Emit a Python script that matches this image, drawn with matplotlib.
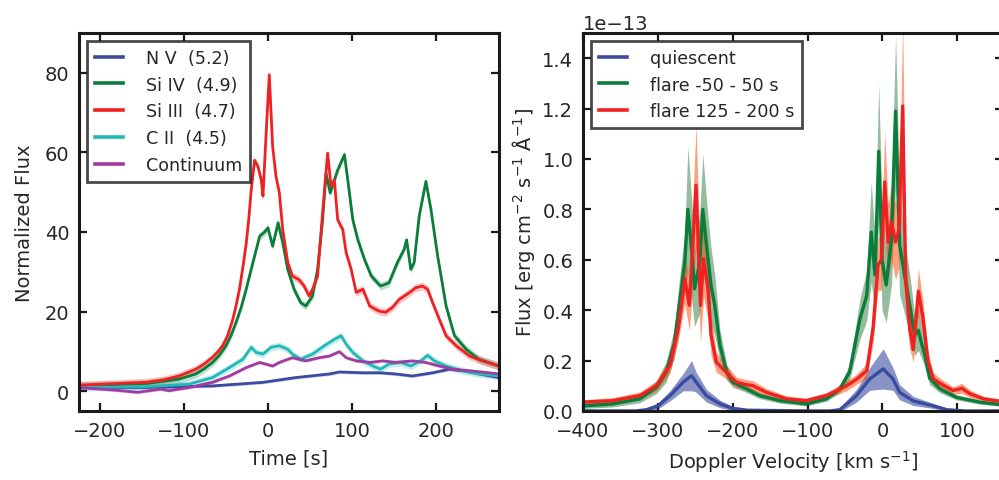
import numpy as np
import matplotlib
matplotlib.use('Agg')
import matplotlib.pyplot as plt

################### DATOS: CURVAS DE LUZ ###################

# Tiempo [s] y flujo normalizado por linea
nv_t = [-225, -145, -66, -6, 33, 73, 85, 113, 133, 152, 172, 196, 216, 232, 252, 275]
nv_f = [0.9, 0.9, 1.3, 2.2, 3.4, 4.3, 4.8, 4.6, 4.6, 4.3, 3.8, 4.6, 5.5, 5.1, 4.3, 3.4]

siiv_t = [-225, -145, -106, -86, -76, -66, -58, -50, -44, -38, -32, -26, -18, -10, -4, 0, 5.5, 12, 17.5,
          23.5, 31, 39, 45, 53, 59, 65, 69, 74, 83, 91, 95, 101, 107, 115, 123, 134, 144, 154, 162, 165,
          170, 174, 180, 188, 194, 202, 212, 222, 236, 251, 275]
siiv_f = [1.3, 1.9, 3.0, 4.3, 5.6, 7.2, 9.0, 11.4, 14.0, 17.3, 21.0, 25.6, 32.3, 38.9, 40.0, 41.0, 36.4,
          42.3, 37.3, 30.6, 25.6, 22.2, 21.4, 23.9, 30.6, 43.0, 54.8, 49.8, 55.6, 59.4, 53.0, 43.0, 38.0,
          33.0, 28.9, 26.4, 27.2, 32.3, 35.6, 38.0, 30.6, 32.3, 44.0, 52.7, 45.6, 33.9, 21.4, 13.9, 10.5,
          8.0, 6.3]

siiii_t = [-225, -145, -125, -106, -86, -76, -66, -60, -54, -48, -42, -38, -34, -30, -26, -23, -20, -16,
           -12, -8, -6, -2, 1.5, 5.5, 9.5, 13.5, 17.5, 23.5, 29, 37, 43, 49, 53, 59, 65, 71, 75, 79, 83,
           89, 93, 99, 105, 113, 121, 132, 140, 148, 156, 168, 176, 184, 190, 196, 204, 212, 224, 240,
           255, 275]
siiii_f = [1.5, 2.2, 2.8, 3.8, 5.5, 6.8, 8.5, 9.8, 11.4, 14.0, 18.0, 21.5, 25.6, 31.0, 37.0, 43.0, 50.6,
           58.0, 56.5, 53.0, 49.0, 65.7, 79.5, 61.5, 54.0, 49.8, 40.6, 32.3, 28.9, 28.0, 26.4, 23.9, 25.6,
           28.9, 44.8, 59.8, 51.5, 53.0, 43.0, 40.6, 34.8, 30.6, 24.8, 25.6, 21.4, 20.1, 19.8, 21.0, 23.0,
           24.7, 26.0, 26.4, 25.6, 22.2, 18.0, 13.9, 11.4, 8.8, 7.6, 6.3]

cii_t = [-225, -145, -94, -66, -46, -30, -20, -14, -6, 3.5, 13.5, 23.5, 29, 39, 53, 67, 79, 87, 93, 101,
         113, 125, 134, 144, 158, 170, 182, 190, 198, 212, 232, 252, 275]
cii_f = [0.9, 1.1, 1.75, 3.4, 5.9, 8.0, 11.0, 9.7, 9.3, 11.0, 11.4, 10.5, 9.3, 8.0, 9.3, 11.4, 13.0, 13.9,
         11.8, 9.7, 7.6, 6.3, 5.5, 6.8, 7.2, 6.3, 7.6, 9.0, 7.6, 6.3, 5.1, 4.3, 3.8]

cont_t = [-225, -185, -155, -128, -118, -94, -66, -46, -26, -10, 5.5, 13.5, 29, 45, 61, 73, 85, 93, 105,
          121, 137, 152, 172, 188, 204, 220, 240, 259, 275]
cont_f = [0.9, 0.3, -0.3, 0.5, 0.1, 0.9, 2.2, 3.8, 5.9, 7.2, 6.3, 7.2, 8.4, 7.6, 8.4, 8.8, 9.9, 8.4, 7.6,
          7.2, 7.6, 7.2, 7.6, 7.2, 6.3, 5.5, 5.1, 4.7, 4.3]

# Incertidumbre (media banda) de cada curva
err_lc = {'nv': 0.4, 'siiv': 1.0, 'siiii': 1.0, 'cii': 0.9, 'cont': 0.4}

labels_lc = ['N V  (5.2)', 'Si IV  (4.9)', 'Si III  (4.7)', 'C II  (4.5)', 'Continuum']

################### DATOS: ESPECTROS ###################

flux_scale = 1e-13  # unidades del eje y

q_v = [-400, -330, -315, -300, -284, -266, -255, -249, -235, -217, -200, -180, -100, -70, -57, -35, -17,
       1, 14, 23, 41, 68, 86, 110, 161]
q_f = [0.0, 0.0, 0.005, 0.02, 0.06, 0.115, 0.14, 0.115, 0.06, 0.028, 0.01, 0.003, 0.0, 0.0, 0.005, 0.06,
       0.127, 0.167, 0.127, 0.074, 0.04, 0.02, 0.005, 0.0, 0.0]
q_e = [0.003, 0.005, 0.008, 0.012, 0.02, 0.035, 0.06, 0.04, 0.025, 0.015, 0.008, 0.004, 0.003, 0.004,
       0.008, 0.025, 0.045, 0.08, 0.045, 0.03, 0.018, 0.01, 0.005, 0.003, 0.003]

f1_v = [-400, -360, -324, -302, -289, -278, -271, -264, -260, -255, -251, -244, -240, -235, -229, -224,
        -217, -208, -200, -186, -164, -137, -102, -75, -57, -44, -30, -21, -15, -10, -5, -0.5, 5, 12,
        17.5, 23, 30, 36.5, 43, 48, 52, 56, 63, 77, 99, 130, 161]
f1_f = [0.02, 0.028, 0.048, 0.094, 0.154, 0.27, 0.43, 0.59, 0.8, 0.644, 0.485, 0.59, 0.8, 0.657, 0.498,
        0.419, 0.26, 0.154, 0.114, 0.094, 0.061, 0.041, 0.028, 0.048, 0.087, 0.154, 0.366, 0.458, 0.71,
        0.54, 1.03, 0.6, 0.5, 0.68, 1.19, 0.66, 0.53, 0.42, 0.3, 0.32, 0.27, 0.23, 0.13, 0.087, 0.054,
        0.035, 0.024]
f1_e = [0.01, 0.012, 0.015, 0.025, 0.04, 0.06, 0.1, 0.12, 0.25, 0.2, 0.15, 0.2, 0.22, 0.18, 0.15, 0.12,
        0.06, 0.03, 0.02, 0.015, 0.012, 0.01, 0.008, 0.01, 0.015, 0.03, 0.08, 0.1, 0.2, 0.15, 0.27, 0.2,
        0.15, 0.18, 0.3, 0.2, 0.15, 0.12, 0.08, 0.08, 0.06, 0.05, 0.025, 0.015, 0.01, 0.008, 0.006]

f2_v = [-400, -360, -324, -302, -284, -273, -264, -258, -249, -243, -239, -233, -229, -222, -213, -202,
        -195, -186, -173, -155, -128, -102, -75, -48, -35, -21, -12.5, -6, -1.5, 3, 7.5, 12, 17.5, 22,
        24, 27, 31, 36.5, 41, 48, 54, 61, 68, 77, 94, 106, 117, 135, 161]
f2_f = [0.035, 0.041, 0.061, 0.10, 0.18, 0.326, 0.525, 0.419, 0.896, 0.419, 0.604, 0.485, 0.3, 0.194,
        0.167, 0.134, 0.114, 0.107, 0.1, 0.074, 0.048, 0.041, 0.061, 0.10, 0.125, 0.16, 0.33, 0.578, 0.6,
        0.909, 0.67, 0.75, 0.67, 0.72, 0.91, 1.21, 0.52, 0.326, 0.244, 0.475, 0.37, 0.194, 0.127, 0.11,
        0.081, 0.09, 0.068, 0.048, 0.037]
f2_e = [0.01, 0.012, 0.015, 0.02, 0.03, 0.05, 0.1, 0.1, 0.24, 0.15, 0.15, 0.12, 0.08, 0.04, 0.03, 0.025,
        0.02, 0.02, 0.02, 0.015, 0.012, 0.01, 0.012, 0.02, 0.02, 0.03, 0.06, 0.1, 0.12, 0.2, 0.15, 0.15,
        0.15, 0.15, 0.2, 0.35, 0.12, 0.08, 0.05, 0.09, 0.07, 0.04, 0.025, 0.02, 0.015, 0.02, 0.015, 0.01,
        0.008]

labels_sp = ['quiescent', 'flare -50 - 50 s', 'flare 125 - 200 s']

################### ESTILO ###################

c_blue = '#3b4ba0'
c_green = '#0b7d3a'
c_red = '#ee2222'
c_cyan = '#22b8b8'
c_purple = '#a03ca0'
c_text = '#262626'
c_spine = '#1a1a1a'

plt.rcParams['font.family'] = ['DejaVu Sans']
plt.rcParams['font.size'] = 14
plt.rcParams['text.color'] = c_text
plt.rcParams['axes.labelcolor'] = c_text
plt.rcParams['xtick.color'] = c_text
plt.rcParams['ytick.color'] = c_text
plt.rcParams['mathtext.fontset'] = 'dejavusans'


def style_axes(ax):
    for s in ax.spines.values():
        s.set_linewidth(2.2)
        s.set_color(c_spine)
    ax.tick_params(direction='in', length=6, width=1.6, top=True, right=True,
                   labelsize=14, pad=7, color=c_spine)


def legend_box(ax, **kw):
    leg = ax.legend(loc='upper left', fancybox=False, fontsize=12.6, handlelength=1.6,
                    handletextpad=1.3, borderpad=0.45, labelspacing=0.5, borderaxespad=0.45, **kw)
    leg.get_frame().set_edgecolor(c_spine)
    leg.get_frame().set_linewidth(2.0)
    for h in leg.get_lines():
        h.set_linewidth(2.6)
    return leg


fig = plt.figure(figsize=(9.99, 4.81), dpi=100)
ax1 = fig.add_axes([0.0791, 0.1435, 0.4204, 0.7858])
ax2 = fig.add_axes([0.5836, 0.1435, 0.4204, 0.7858])

################### PANEL IZQUIERDO ###################

series = [(nv_t, nv_f, err_lc['nv'], c_blue),
          (siiv_t, siiv_f, err_lc['siiv'], c_green),
          (siiii_t, siiii_f, err_lc['siiii'], c_red),
          (cii_t, cii_f, err_lc['cii'], c_cyan),
          (cont_t, cont_f, err_lc['cont'], c_purple)]

for (t, f, e, c), lab in zip(series, labels_lc):
    t = np.array(t)
    f = np.array(f)
    ax1.fill_between(t, f - e, f + e, color=c, alpha=0.25, lw=0)
    ax1.plot(t, f, color=c, lw=2.0, label=lab)

ax1.set_xlim(-225, 275)
ax1.set_ylim(-5, 90)
ax1.set_xticks([-200, -100, 0, 100, 200])
ax1.set_yticks([0, 20, 40, 60, 80])
ax1.set_xlabel('Time [s]', fontsize=14, labelpad=6)
ax1.set_ylabel('Normalized Flux', fontsize=14, labelpad=8)
style_axes(ax1)
legend_box(ax1)

################### PANEL DERECHO ###################

spec = [(q_v, q_f, q_e, c_blue, c_blue, 0.6),
        (f1_v, f1_f, f1_e, c_green, '#2f7a3f', 0.5),
        (f2_v, f2_f, f2_e, c_red, 'orangered', 0.5)]

for v, f, e, c, cb, a in spec:
    v = np.array(v)
    f = np.array(f) * flux_scale
    e = np.array(e) * flux_scale
    ax2.fill_between(v, f - e, f + e, color=cb, alpha=a, lw=0)

for (v, f, e, c, cb, a), lab in zip(spec, labels_sp):
    ax2.plot(v, np.array(f) * flux_scale, color=c, lw=2.4, label=lab)

ax2.set_xlim(-400, 161)
ax2.set_ylim(0, 1.5e-13)
ax2.set_xticks([-400, -300, -200, -100, 0, 100])
ax2.set_yticks(np.arange(0, 1.41e-13, 0.2e-13))
ax2.set_xlabel(r'Doppler Velocity [km s$^{-1}$]', fontsize=14, labelpad=6)
ax2.set_ylabel(r'Flux [erg cm$^{-2}$ s$^{-1}$ $\mathrm{\AA}^{-1}$]', fontsize=14, labelpad=4)
ax2.yaxis.get_offset_text().set_fontsize(14)
style_axes(ax2)
legend_box(ax2)

plt.savefig('out.png', dpi=100)
